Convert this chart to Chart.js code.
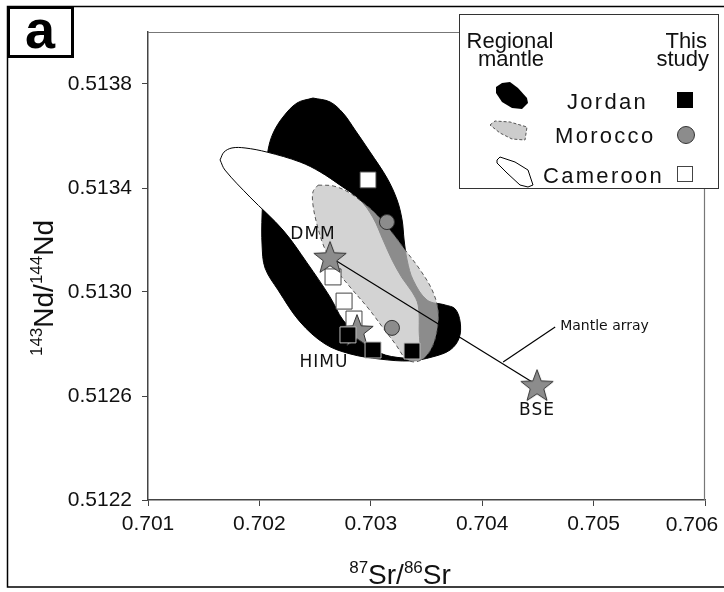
<!DOCTYPE html>
<html lang="en">
<head>
<meta charset="UTF-8">
<title>Sr-Nd isotopes</title>
<script src="https://cdn.jsdelivr.net/npm/chart.js@4.4.1/dist/chart.umd.min.js"></script>
<style>
  html, body { margin: 0; padding: 0; background: #fff; }
  #wrap { width: 724px; height: 592px; }
</style>
</head>
<body>
<div id="wrap"><canvas id="chart" width="724" height="592"></canvas></div>
<script>
const srTicks = [0.701, 0.702, 0.703, 0.704, 0.705, 0.706];
const ndTicks = [0.5122, 0.5126, 0.5130, 0.5134, 0.5138];

// regional mantle fields, pairs of [87Sr/86Sr, 143Nd/144Nd]
const jordanField = [
  [0.702481, 0.513746], [0.702634, 0.513731], [0.702751, 0.513688], [0.702859, 0.513623],
  [0.702994, 0.513538], [0.703146, 0.513438], [0.703236, 0.513354], [0.703281, 0.513277],
  [0.703299, 0.513200], [0.703326, 0.513123], [0.703380, 0.513046], [0.703505, 0.512969],
  [0.703667, 0.512950], [0.703757, 0.512935], [0.703802, 0.512885], [0.703793, 0.512823],
  [0.703712, 0.512777], [0.703550, 0.512750], [0.703353, 0.512735], [0.703083, 0.512742],
  [0.702814, 0.512762], [0.702590, 0.512800], [0.702365, 0.512885], [0.702167, 0.513008],
  [0.702051, 0.513092], [0.702024, 0.513181], [0.702024, 0.513296], [0.702042, 0.513411],
  [0.702078, 0.513546], [0.702123, 0.513611], [0.702212, 0.513673], [0.702338, 0.513727]
];
const cameroonField = [
  [0.701647, 0.513508], [0.701682, 0.513538], [0.701754, 0.513554], [0.701871, 0.513554],
  [0.702069, 0.513538], [0.702365, 0.513500], [0.702545, 0.513462], [0.702724, 0.513411],
  [0.702904, 0.513354], [0.703021, 0.513285], [0.703110, 0.513200], [0.703191, 0.513123],
  [0.703281, 0.513054], [0.703371, 0.513000], [0.703425, 0.512950], [0.703434, 0.512854],
  [0.703425, 0.512750], [0.703290, 0.512746], [0.703083, 0.512765], [0.702931, 0.512815],
  [0.702751, 0.512892], [0.702634, 0.512981], [0.702428, 0.513112], [0.702212, 0.513238],
  [0.701916, 0.513365], [0.701691, 0.513469]
];
const moroccoField = [
  [0.702527, 0.513411], [0.702661, 0.513408], [0.702796, 0.513385], [0.702922, 0.513346],
  [0.703038, 0.513304], [0.703173, 0.513238], [0.703308, 0.513162], [0.703443, 0.513085],
  [0.703550, 0.513008], [0.703604, 0.512931], [0.703595, 0.512854], [0.703550, 0.512788],
  [0.703478, 0.512746], [0.703389, 0.512731], [0.703308, 0.512746], [0.703227, 0.512796],
  [0.703110, 0.512862], [0.702976, 0.512938], [0.702814, 0.513019], [0.702679, 0.513092],
  [0.702581, 0.513173], [0.702518, 0.513258], [0.702481, 0.513335], [0.702481, 0.513385]
];

// this study
const jordanSamples = [[0.702795, 0.512835], [0.703020, 0.512777], [0.703370, 0.512773]];
const moroccoSamples = [[0.703145, 0.513269], [0.703190, 0.512862]];
const cameroonSamples = [[0.702975, 0.513431], [0.702661, 0.513058], [0.702760, 0.512965], [0.702849, 0.512896]];

// mantle end members
const endMembers = ['DMM', 'HIMU', 'BSE'];
const endMemberSr = [0.702634, 0.702876, 0.704492];
const endMemberNd = [0.513135, 0.512854, 0.512642];
const mantleArray = [[0.702634, 0.513135], [0.704492, 0.512642]];
const arrayPointer = [[0.704188, 0.512731], [0.704655, 0.512865]];

const FONT = '"Liberation Sans", Arial, sans-serif';
const pts = arr => arr.map(([x, y]) => ({x, y}));
const closed = arr => pts(arr.concat([arr[0]]));

function makeStar(size) {
  const c = document.createElement('canvas');
  c.width = size; c.height = size;
  const g = c.getContext('2d');
  const R = size / 2 - 1, r = R * 0.42;
  const cx = size / 2, cy = size / 2 + R * 0.095;
  g.beginPath();
  for (let i = 0; i < 10; i++) {
    const a = -Math.PI / 2 + i * Math.PI / 5;
    const rr = i % 2 ? r : R;
    g.lineTo(cx + rr * Math.cos(a), cy + rr * Math.sin(a));
  }
  g.closePath();
  g.fillStyle = '#8c8c8c';
  g.fill();
  g.strokeStyle = '#333';
  g.lineWidth = 1;
  g.stroke();
  return c;
}
const star = makeStar(36);

function richText(ctx, parts, x, y, big, small, rise) {
  let w = 0;
  parts.forEach(p => {
    ctx.font = (p.sup ? small : big) + 'px ' + FONT;
    p.w = ctx.measureText(p.t).width;
    w += p.w;
  });
  let cx = x - w / 2;
  ctx.textAlign = 'left';
  parts.forEach(p => {
    ctx.font = (p.sup ? small : big) + 'px ' + FONT;
    ctx.fillText(p.t, cx, p.sup ? y - rise : y);
    cx += p.w;
  });
}

function poly(ctx, list) {
  ctx.beginPath();
  list.forEach(([x, y], i) => i ? ctx.lineTo(x, y) : ctx.moveTo(x, y));
  ctx.closePath();
}

const decor = {
  id: 'decor',
  beforeDraw(chart) {
    const ctx = chart.ctx;
    ctx.save();
    ctx.fillStyle = '#fff';
    ctx.fillRect(0, 0, chart.width, chart.height);
    ctx.restore();
  },
  beforeDatasetsDraw(chart) {
    const {ctx, chartArea: a} = chart;
    ctx.save();
    ctx.strokeStyle = '#777';
    ctx.lineWidth = 1.2;
    ctx.beginPath();
    ctx.moveTo(a.left, a.top + 0.5);
    ctx.lineTo(a.right - 0.5, a.top + 0.5);
    ctx.lineTo(a.right - 0.5, a.bottom);
    ctx.stroke();
    ctx.restore();
  },
  afterDraw(chart) {
    const {ctx} = chart;
    const xs = chart.scales.x, ys = chart.scales.y;
    ctx.save();

    // outer frame
    ctx.strokeStyle = '#000';
    ctx.lineWidth = 1.5;
    ctx.beginPath();
    ctx.moveTo(730, 6.5); ctx.lineTo(7.5, 6.5); ctx.lineTo(7.5, 587); ctx.lineTo(730, 587);
    ctx.stroke();

    // panel letter
    ctx.fillStyle = '#fff';
    ctx.fillRect(8, 7, 65, 50);
    ctx.lineWidth = 3;
    ctx.strokeRect(8.5, 7.5, 64, 49);
    ctx.fillStyle = '#000';
    ctx.font = 'bold 54px ' + FONT;
    ctx.textAlign = 'center';
    ctx.textBaseline = 'alphabetic';
    ctx.fillText('a', 40, 48);

    // last x tick label kept inside the frame
    ctx.font = '21px ' + FONT;
    ctx.textBaseline = 'middle';
    ctx.fillStyle = '#111';
    ctx.fillText('0.706', 692, 525);
    ctx.textBaseline = 'alphabetic';

    // axis titles
    ctx.fillStyle = '#111';
    richText(ctx, [{t: '87', sup: true}, {t: 'Sr/'}, {t: '86', sup: true}, {t: 'Sr'}], 400, 584, 28, 17, 11);
    ctx.save();
    ctx.translate(53, 288);
    ctx.rotate(-Math.PI / 2);
    richText(ctx, [{t: '143', sup: true}, {t: 'Nd/'}, {t: '144', sup: true}, {t: 'Nd'}], 0, 0, 28, 17, 11);
    ctx.restore();

    // end member labels
    ctx.fillStyle = '#111';
    ctx.textAlign = 'center';
    ctx.textBaseline = 'middle';
    ctx.font = '17px "DejaVu Sans", Verdana, sans-serif';
    ctx.letterSpacing = '1px';
    const offs = [[-17, -22], [-33, 33], [0, 25]];
    endMembers.forEach((name, i) => {
      const px = xs.getPixelForValue(endMemberSr[i]), py = ys.getPixelForValue(endMemberNd[i]);
      ctx.fillText(name, px + offs[i][0], py + offs[i][1]);
    });
    ctx.letterSpacing = '0px';
    ctx.font = '14px "DejaVu Sans", Verdana, sans-serif';
    ctx.textAlign = 'left';
    const end = arrayPointer[1];
    ctx.fillText('Mantle array', xs.getPixelForValue(end[0]) + 5, ys.getPixelForValue(end[1]) - 1);

    // legend
    ctx.fillStyle = '#fff';
    ctx.fillRect(459, 14, 260, 175);
    ctx.strokeStyle = '#333';
    ctx.lineWidth = 1;
    ctx.strokeRect(459.5, 14.5, 259, 174);
    ctx.fillStyle = '#111';
    ctx.textBaseline = 'alphabetic';
    ctx.font = '22px ' + FONT;
    ctx.textAlign = 'center';
    ctx.fillText('Regional', 510, 48);
    ctx.fillText('mantle', 511, 66);
    ctx.textAlign = 'right';
    ctx.fillText('This', 707, 48);
    ctx.fillText('study', 709, 66);
    ctx.textAlign = 'left';
    ctx.letterSpacing = '2.3px';
    ctx.fillText('Jordan', 567, 109);
    ctx.fillText('Morocco', 555, 143);
    ctx.fillText('Cameroon', 543, 183);
    ctx.letterSpacing = '0px';

    poly(ctx, [[496, 87], [502, 83], [510, 82], [518, 88], [527, 98], [528, 103], [522, 109], [512, 108], [502, 102], [496, 93]]);
    ctx.fillStyle = '#000';
    ctx.fill();
    poly(ctx, [[490, 125], [495, 121], [510, 122], [527, 127], [525, 140], [512, 139], [500, 133]]);
    ctx.fillStyle = '#ccc';
    ctx.fill();
    ctx.setLineDash([3, 2]);
    ctx.strokeStyle = '#555';
    ctx.stroke();
    ctx.setLineDash([]);
    poly(ctx, [[497, 160], [500, 157], [515, 162], [528, 170], [533, 185], [528, 187], [520, 185], [507, 173], [497, 163]]);
    ctx.fillStyle = '#fff';
    ctx.fill();
    ctx.strokeStyle = '#000';
    ctx.stroke();

    ctx.fillStyle = '#000';
    ctx.fillRect(677, 92, 16, 16);
    ctx.beginPath();
    ctx.arc(686, 135, 8.5, 0, Math.PI * 2);
    ctx.fillStyle = '#8c8c8c';
    ctx.fill();
    ctx.strokeStyle = '#333';
    ctx.stroke();
    ctx.fillStyle = '#fff';
    ctx.fillRect(677, 166, 16, 16);
    ctx.strokeStyle = '#444';
    ctx.strokeRect(677.5, 166.5, 15, 15);

    ctx.restore();
  }
};

new Chart(document.getElementById('chart'), {
  type: 'line',
  data: {
    datasets: [
      {label: 'Jordan field', data: closed(jordanField), fill: 'shape', backgroundColor: '#000',
        borderColor: '#000', borderWidth: 1, pointRadius: 0, tension: 0.35, order: 10},
      {label: 'Cameroon field', data: closed(cameroonField), fill: 'shape', backgroundColor: '#fff',
        borderColor: '#000', borderWidth: 1, pointRadius: 0, tension: 0.35, order: 9},
      {label: 'Morocco field', data: closed(moroccoField), fill: 'shape', backgroundColor: 'rgba(194,194,194,0.72)',
        borderColor: '#555', borderWidth: 1, borderDash: [4, 3], pointRadius: 0, tension: 0.35, order: 8},
      {label: 'Mantle array', data: pts(mantleArray), borderColor: '#000', borderWidth: 1.2,
        pointRadius: 0, fill: false, order: 7},
      {label: 'pointer', data: pts(arrayPointer), borderColor: '#000', borderWidth: 1.2,
        pointRadius: 0, fill: false, order: 7},
      {label: 'Cameroon', data: pts(cameroonSamples), showLine: false, pointStyle: 'rect', pointRadius: 11.3,
        backgroundColor: '#fff', borderColor: '#444', borderWidth: 1, order: 6},
      {label: 'End members', data: endMemberSr.map((x, i) => ({x, y: endMemberNd[i]})), showLine: false,
        pointStyle: star, pointRadius: 17, order: 5},
      {label: 'Jordan', data: pts(jordanSamples), showLine: false, pointStyle: 'rect', pointRadius: 11.3,
        backgroundColor: '#000', borderColor: '#bbb', borderWidth: 1, order: 4},
      {label: 'Morocco', data: pts(moroccoSamples), showLine: false, pointStyle: 'circle', pointRadius: 7.5,
        backgroundColor: '#8c8c8c', borderColor: '#333', borderWidth: 1, order: 4}
    ]
  },
  options: {
    responsive: false,
    animation: false,
    events: [],
    layout: {padding: {left: 0, top: 32, right: 19, bottom: 0}},
    plugins: {legend: {display: false}, tooltip: {enabled: false}},
    scales: {
      x: {
        type: 'linear', min: 0.701, max: 0.706,
        afterBuildTicks: s => { s.ticks = srTicks.map(v => ({value: v})); },
        afterFit: s => { s.height = 92; s.paddingLeft = 0; s.paddingRight = 0; },
        grid: {drawOnChartArea: false, tickLength: 6, color: '#444'},
        border: {color: '#444', width: 1.5},
        ticks: {
          padding: 6, color: '#111', font: {family: FONT, size: 21}, maxRotation: 0, autoSkip: false,
          callback: v => v === 0.706 ? '' : v.toFixed(3)
        }
      },
      y: {
        type: 'linear', min: 0.5122, max: 0.5140,
        afterBuildTicks: s => { s.ticks = ndTicks.map(v => ({value: v})); },
        afterFit: s => { s.width = 148; s.paddingTop = 0; s.paddingBottom = 0; },
        grid: {drawOnChartArea: false, tickLength: 6, color: '#444'},
        border: {color: '#444', width: 1.5},
        ticks: {
          padding: 10, color: '#111', font: {family: FONT, size: 21}, autoSkip: false,
          callback: v => v.toFixed(4)
        }
      }
    }
  },
  plugins: [decor]
});
</script>
</body>
</html>
